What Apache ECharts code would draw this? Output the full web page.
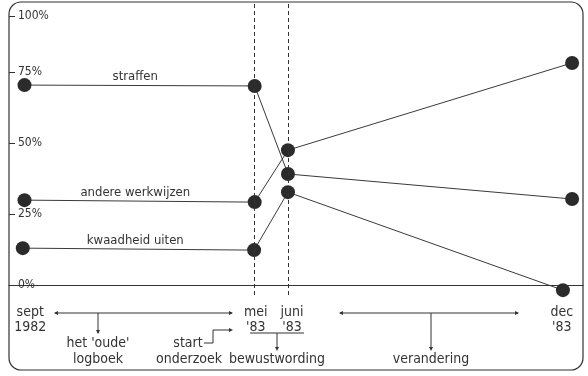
<!DOCTYPE html>
<html>
<head>
<meta charset="utf-8">
<script src="https://cdn.jsdelivr.net/npm/echarts@6/dist/echarts.min.js"></script>
<style>
html, body { margin: 0; padding: 0; background: #fff; }
#chart { width: 588px; height: 376px; }
</style>
</head>
<body>
<div id="chart"></div>
<script>
// positie op de tijdlijn (sept '82, mei '83, juni '83, dec '83)
const timePos = [2.7, 42.8, 48.6, 98.1];
const kwaadheidPos = [2.4, 42.7, 48.6, 96.5];
const straffen = [70.4, 70.1, 39.1, 30.3];
const andereWerkwijzen = [29.9, 29.2, 47.5, 78.2];
const kwaadheidUiten = [13.0, 12.3, 32.7, -1.8];
const seriesNames = ['straffen', 'andere werkwijzen', 'kwaadheid uiten'];
const labelPos = 22;
const phaseMarks = [42.8, 48.6]; // stippellijnen mei / juni
const dateTicks = [3.7, 43, 49.3, 96.3];
const dateLabels = ['sept\n1982', "mei\n'83", "juni\n'83", "dec\n'83"];
const yTicks = [0, 25, 50, 75, 94.7];
const yTickLabels = ['0%', '25%', '50%', '75%', '100%'];

const FONT = "'Liberation Sans Narrow', 'DejaVu Sans Condensed', 'Liberation Sans', sans-serif";
const INK = '#333';

function lineSeries(name, xs, ys, withMarks) {
  const s = {
    name,
    type: 'line',
    data: xs.map((x, i) => [x, ys[i]]),
    symbol: 'circle',
    symbolSize: 14,
    itemStyle: { color: '#2b2b2b' },
    lineStyle: { color: '#3a3a3a', width: 1 },
    markPoint: {
      symbol: 'circle',
      symbolSize: 0,
      data: [{ coord: [labelPos, ys[0]] }],
      label: {
        show: true,
        formatter: name,
        offset: [0, -8],
        color: INK,
        fontSize: 13,
        fontFamily: FONT,
      },
    },
    z: 3,
  };
  if (withMarks) {
    s.markLine = {
      symbol: 'none',
      silent: true,
      label: { show: false },
      lineStyle: { color: INK, type: [4, 3], width: 1 },
      data: phaseMarks.map((x) => ({ xAxis: x })),
    };
  }
  return s;
}

// onderste annotaties
function line(points) {
  return { type: 'polyline', silent: true, shape: { points }, style: { stroke: INK, lineWidth: 1, fill: null } };
}
function head(x, y, dir) {
  const s = 4;
  const w = 2;
  let pts;
  if (dir === 'right') pts = [[x, y], [x - s, y - w], [x - s, y + w]];
  if (dir === 'left') pts = [[x, y], [x + s, y - w], [x + s, y + w]];
  if (dir === 'down') pts = [[x, y], [x - w, y - s], [x + w, y - s]];
  return { type: 'polygon', silent: true, shape: { points: pts }, style: { fill: INK } };
}
function text(str, x, y) {
  return {
    type: 'text',
    silent: true,
    x,
    y,
    style: { text: str, align: 'center', verticalAlign: 'middle', font: `14px ${FONT}`, fill: INK },
  };
}

const annotations = [
  { type: 'rect', silent: true, shape: { x: 9, y: 2, width: 574, height: 368, r: 12 }, style: { fill: null, stroke: INK, lineWidth: 1.2 } },
  // het 'oude' logboek
  line([[55, 313], [232, 313]]), head(54, 313, 'left'), head(233, 313, 'right'),
  line([[98, 313], [98, 333]]), head(98, 334, 'down'),
  text("het 'oude'", 98, 343), text('logboek', 98, 359),
  // start onderzoek
  line([[204, 343], [213, 343], [213, 330], [230, 330]]), head(233, 330, 'right'),
  text('start', 188, 343), text('onderzoek', 189, 359),
  // bewustwording
  line([[250, 333], [304, 333]]), line([[277, 333], [277, 348]]), head(277, 351, 'down'),
  text('bewustwording', 277, 359),
  // verandering
  line([[340, 313], [518, 313]]), head(339, 313, 'left'), head(519, 313, 'right'),
  line([[431, 313], [431, 348]]), head(431, 351, 'down'),
  text('verandering', 431, 359),
];

const chart = echarts.init(document.getElementById('chart'));
chart.setOption({
  animation: false,
  backgroundColor: '#fff',
  grid: { left: 9, right: 5, top: 3, bottom: 81 },
  xAxis: {
    type: 'value',
    min: 0,
    max: 100,
    axisLine: { show: true, lineStyle: { color: INK, width: 1.2 } },
    axisTick: { show: false },
    splitLine: { show: false },
    axisLabel: {
      customValues: dateTicks,
      formatter: (v) => dateLabels[dateTicks.indexOf(v)],
      color: INK,
      fontSize: 14,
      lineHeight: 15,
      margin: 10,
      fontFamily: FONT,
    },
  },
  yAxis: {
    type: 'value',
    min: -3.5,
    max: 99.3,
    axisLine: { show: false },
    splitLine: { show: false },
    axisTick: { show: true, inside: true, length: 6, customValues: yTicks, lineStyle: { color: INK } },
    axisLabel: {
      inside: true,
      margin: 9,
      customValues: yTicks,
      formatter: (v) => yTickLabels[yTicks.indexOf(v)],
      color: INK,
      fontSize: 12,
      fontFamily: FONT,
    },
  },
  series: [
    lineSeries(seriesNames[0], timePos, straffen, true),
    lineSeries(seriesNames[1], timePos, andereWerkwijzen, false),
    lineSeries(seriesNames[2], kwaadheidPos, kwaadheidUiten, false),
  ],
  graphic: annotations,
});
</script>
</body>
</html>
